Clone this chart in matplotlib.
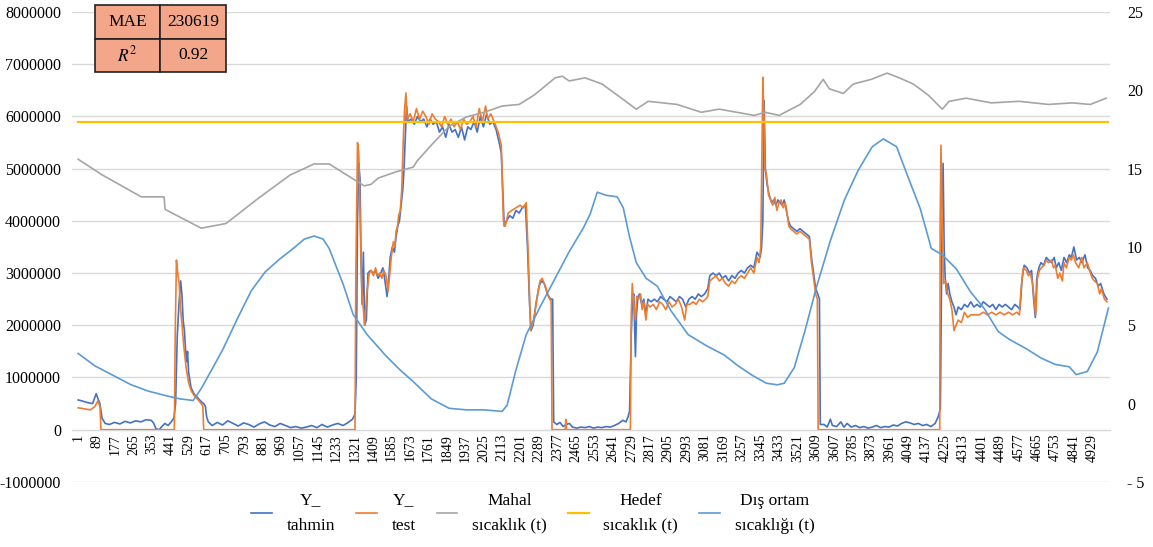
import numpy as np
import matplotlib
matplotlib.use("Agg")
import matplotlib.pyplot as plt

plt.rcParams['font.family'] = ['Liberation Serif', 'DejaVu Serif']
plt.rcParams['mathtext.fontset'] = 'stix'

# --- data (x = sample index, left series in millions, right series in degC) ---
tick_labels = ["1", "89", "177", "265", "353", "441", "529", "617", "705", "793", "881", "969",
               "1057", "1145", "1233", "1321", "1409", "1585", "1673", "1761", "1849", "1937",
               "2025", "2113", "2201", "2289", "2377", "2465", "2553", "2641", "2729", "2817",
               "2905", "2993", "3081", "3169", "3257", "3345", "3433", "3521", "3609", "3607",
               "3785", "3873", "3961", "4049", "4137", "4225", "4313", "4401", "4489", "4577",
               "4665", "4753", "4841", "4929"]

tahmin_x = [1, 20, 45, 70, 87, 95, 105, 115, 130, 150, 175, 200, 225, 250, 275, 300, 325, 350, 362, 372,
            388, 400, 415, 430, 445, 458, 466, 474, 482, 490, 496, 502, 508, 514, 519, 523, 528, 540, 555,
            570, 585, 600, 608, 614, 622, 640, 665, 690, 715, 740, 765, 790, 815, 840, 865, 890, 915, 940,
            965, 990, 1015, 1040, 1065, 1090, 1115, 1140, 1165, 1190, 1215, 1240, 1265, 1290, 1310, 1322,
            1328, 1334, 1340, 1346, 1351, 1356, 1362, 1368, 1376, 1384, 1395, 1410, 1420, 1432, 1445, 1455,
            1465, 1475, 1482, 1490, 1500, 1510, 1518, 1526, 1534, 1542, 1550, 1556, 1562, 1568, 1575, 1590,
            1605, 1620, 1635, 1650, 1665, 1680, 1695, 1710, 1725, 1740, 1755, 1770, 1785, 1800, 1815, 1830,
            1845, 1860, 1875, 1890, 1905, 1920, 1935, 1950, 1965, 1980, 1995, 2010, 2020, 2028, 2034, 2045,
            2060, 2075, 2090, 2105, 2120, 2135, 2145, 2155, 2162, 2172, 2185, 2200, 2212, 2225, 2240, 2255,
            2265, 2270, 2285, 2300, 2315, 2330, 2345, 2360, 2380, 2400, 2420, 2440, 2460, 2480, 2500, 2520,
            2540, 2560, 2580, 2600, 2615, 2625, 2632, 2640, 2646, 2652, 2660, 2665, 2672, 2680, 2690, 2700,
            2710, 2720, 2735, 2750, 2765, 2780, 2795, 2810, 2825, 2840, 2855, 2870, 2885, 2900, 2915, 2930,
            2945, 2960, 2975, 2990, 3005, 3015, 3030, 3045, 3060, 3075, 3090, 3105, 3120, 3135, 3150, 3165,
            3180, 3195, 3210, 3225, 3240, 3255, 3262, 3268, 3274, 3280, 3288, 3298, 3310, 3320, 3330, 3340,
            3350, 3360, 3370, 3380, 3390, 3400, 3415, 3430, 3445, 3460, 3475, 3490, 3500, 3510, 3520, 3530,
            3538, 3542, 3560, 3575, 3590, 3600, 3620, 3640, 3655, 3670, 3690, 3710, 3730, 3750, 3770, 3790,
            3810, 3830, 3850, 3870, 3890, 3910, 3930, 3950, 3970, 3990, 4010, 4030, 4050, 4070, 4090, 4105,
            4115, 4122, 4128, 4133, 4138, 4145, 4152, 4160, 4170, 4180, 4190, 4200, 4215, 4230, 4245, 4260,
            4275, 4290, 4305, 4320, 4335, 4350, 4365, 4380, 4395, 4410, 4425, 4440, 4455, 4470, 4485, 4495,
            4505, 4515, 4528, 4540, 4550, 4560, 4568, 4575, 4585, 4595, 4608, 4620, 4632, 4645, 4658, 4668,
            4680, 4692, 4705, 4718, 4730, 4740, 4752, 4765, 4778, 4790, 4805, 4818, 4830, 4842, 4855, 4868,
            4880, 4895, 4910]
tahmin_y = [0.57, 0.55, 0.52, 0.50, 0.69, 0.60, 0.50, 0.22, 0.12, 0.10, 0.14, 0.11, 0.16, 0.13, 0.17, 0.15,
            0.19, 0.18, 0.12, 0.02, 0.0, 0.06, 0.12, 0.08, 0.15, 0.22, 0.5, 1.8, 2.4, 2.85, 2.6, 2.1, 1.9,
            1.5, 1.3, 1.5, 1.1, 0.8, 0.68, 0.62, 0.55, 0.5, 0.45, 0.25, 0.15, 0.08, 0.14, 0.09, 0.17, 0.12,
            0.07, 0.13, 0.10, 0.05, 0.11, 0.15, 0.09, 0.06, 0.12, 0.08, 0.04, 0.06, 0.03, 0.05, 0.08, 0.04,
            0.10, 0.05, 0.09, 0.12, 0.08, 0.14, 0.20, 0.30,
            1.0, 4.0, 5.1, 4.8, 3.2, 2.4, 3.4, 2.0, 2.1, 3.0, 3.05, 3.0, 3.05, 2.9, 3.0, 3.1,
            2.85, 2.55, 2.85, 3.3, 3.5, 3.4, 3.7, 3.9, 4.0, 4.3, 4.6, 5.0, 5.6, 6.2, 5.9, 5.95,
            5.85, 6.0, 5.9, 5.95, 5.8, 5.95, 5.85, 5.9, 5.7, 5.8, 5.6, 5.85, 5.7, 5.75, 5.6, 5.8,
            5.55, 5.8, 5.75, 5.9, 5.7, 6.0, 5.8, 6.05, 5.85, 5.9, 5.75, 5.5, 5.3, 4.5, 3.9, 4.0,
            4.1, 4.05, 4.2, 4.15, 4.25, 4.3, 3.5, 2.4, 1.9, 2.0, 2.4, 2.75, 2.85, 2.8, 2.6, 2.5,
            2.5, 0.15, 0.10, 0.14, 0.06, 0.10, 0.12, 0.05, 0.03, 0.05, 0.04, 0.06, 0.03, 0.05, 0.04, 0.06,
            0.05, 0.08, 0.12, 0.18, 0.15, 0.25, 0.35, 1.8, 2.5, 2.6, 1.4, 2.2, 2.55, 2.6, 2.4, 2.5,
            2.2, 2.5, 2.45, 2.5, 2.45, 2.55, 2.5, 2.45, 2.55, 2.5, 2.45, 2.55, 2.5, 2.35, 2.5, 2.55,
            2.5, 2.6, 2.55, 2.6, 2.7, 2.95, 3.0, 2.95, 3.0, 2.9, 2.95, 2.85, 2.95, 2.9, 3.0, 3.05,
            3.0, 3.1, 3.15, 3.1, 3.4, 3.3, 3.5, 4.0, 6.3, 5.0, 4.7, 4.5, 4.35, 4.4, 4.3, 4.4,
            4.35, 4.3, 4.4, 4.2, 4.0, 3.9, 3.85, 3.8, 3.85, 3.8, 3.75, 3.7, 3.3, 3.0, 2.7, 2.6,
            2.5, 0.1, 0.10, 0.05, 0.20, 0.08, 0.06, 0.15, 0.05, 0.12, 0.05, 0.08, 0.04, 0.06, 0.03, 0.05,
            0.08, 0.04, 0.06, 0.05, 0.09, 0.07, 0.12, 0.15, 0.13, 0.10, 0.12, 0.08, 0.10, 0.06, 0.12, 0.25,
            0.4, 3.5, 5.1, 3.5, 2.9, 2.6, 2.8, 2.6, 2.45, 2.35, 2.2, 2.35, 2.3, 2.4, 2.35, 2.45,
            2.35, 2.4, 2.35, 2.45, 2.4, 2.35, 2.4, 2.3, 2.4, 2.35, 2.4, 2.35, 2.3, 2.4, 2.35, 2.3,
            2.9, 3.15, 3.1, 3.0, 3.05, 2.5, 2.15, 2.9, 3.1, 3.2, 3.15, 3.3, 3.25, 3.2, 3.3, 3.1,
            3.2, 3.05, 3.3, 3.2, 3.35, 3.3, 3.5, 3.25, 3.3, 3.2, 3.35, 3.1, 3.05, 2.95, 2.9, 2.75,
            2.8, 2.6, 2.5]

test_x = [1, 30, 60, 80, 95, 105, 110, 460, 464, 470, 476, 483, 490, 497, 505, 516, 528, 540, 555, 574,
          588, 596, 600, 1322, 1326, 1334, 1340, 1350, 1356, 1368, 1378, 1390, 1400, 1410, 1420, 1430, 1440,
          1450, 1460, 1470, 1480, 1488, 1495, 1505, 1512, 1518, 1525, 1530, 1538, 1545, 1552, 1558, 1565,
          1571, 1585, 1600, 1615, 1630, 1645, 1660, 1675, 1690, 1705, 1720, 1735, 1750, 1765, 1780, 1795,
          1810, 1825, 1840, 1855, 1870, 1885, 1900, 1915, 1930, 1945, 1955, 1970, 1986, 2005, 2020, 2030,
          2039, 2053, 2070, 2090, 2110, 2125, 2139, 2148, 2160, 2175, 2190, 2205, 2215, 2230, 2245, 2258,
          2262, 2325, 2328, 2332, 2636, 2640, 2645, 2652, 2660, 2666, 2675, 2685, 2692, 2700, 2710, 2718,
          2730, 2745, 2760, 2775, 2790, 2805, 2820, 2835, 2850, 2865, 2880, 2895, 2905, 2920, 2935, 2950,
          2965, 2980, 2995, 3005, 3015, 3030, 3045, 3060, 3075, 3090, 3105, 3120, 3135, 3150, 3165, 3180,
          3195, 3210, 3225, 3240, 3250, 3258, 3264, 3268, 3273, 3278, 3285, 3295, 3305, 3315, 3325, 3335,
          3345, 3355, 3365, 3375, 3385, 3392, 3400, 3415, 3430, 3445, 3460, 3475, 3490, 3500, 3510, 3520,
          3528, 3532, 4112, 4114, 4118, 4124, 4130, 4140, 4150, 4160, 4170, 4180, 4190, 4200, 4215, 4230,
          4245, 4260, 4280, 4300, 4320, 4340, 4360, 4380, 4400, 4420, 4440, 4460, 4480, 4492, 4500, 4511,
          4525, 4535, 4544, 4555, 4565, 4570, 4578, 4587, 4597, 4610, 4620, 4630, 4645, 4655, 4663, 4675,
          4685, 4697, 4705, 4716, 4730, 4740, 4749, 4760, 4775, 4790, 4800, 4816, 4831, 4840, 4850, 4864,
          4875, 4883, 4898, 4910]
test_y = [0.42, 0.40, 0.38, 0.44, 0.55, 0.45, 0.0, 0.0, 1.8, 3.25, 3.0, 2.8, 2.3, 2.0, 1.6, 1.2, 0.9,
          0.75, 0.65, 0.57, 0.50, 0.45, 0.0, 0.0, 3.0, 5.5, 5.3, 3.4, 2.6, 2.0, 2.6, 3.0, 3.05, 2.95,
          3.1, 2.95, 3.0, 2.9, 3.05, 2.95, 2.65, 3.0, 3.3, 3.6, 3.5, 3.8, 3.9, 4.1, 4.2, 4.6, 5.5,
          6.1, 6.45, 5.95, 6.05, 5.9, 6.15, 5.95, 6.1, 6.0, 5.85, 6.05, 5.95, 5.9, 5.8, 6.0, 5.85,
          5.95, 5.8, 5.9, 5.75, 5.95, 5.85, 5.9, 6.0, 5.8, 6.15, 5.9, 6.2, 5.95, 6.05, 5.9, 5.7,
          5.45, 4.0, 3.9, 4.15, 4.2, 4.25, 4.3, 4.25, 4.35, 3.4, 1.9, 2.1, 2.5, 2.85, 2.9, 2.75,
          2.55, 2.45, 0.0, 0.0, 0.2, 0.0, 0.0, 2.2, 2.8, 2.4, 2.1, 2.55, 2.5, 2.6, 2.3, 2.45, 2.1,
          2.4, 2.35, 2.4, 2.3, 2.45, 2.4, 2.3, 2.45, 2.35, 2.4, 2.5, 2.35, 2.1, 2.4, 2.4, 2.45,
          2.4, 2.5, 2.45, 2.5, 2.55, 2.85, 2.9, 2.95, 2.85, 2.9, 2.8, 2.75, 2.85, 2.8, 2.9, 2.95,
          2.9, 3.0, 3.1, 3.0, 3.3, 3.2, 3.5, 5.5, 6.75, 6.0, 5.0, 4.9, 4.5, 4.4, 4.3, 4.45, 4.2,
          4.35, 4.4, 4.25, 4.35, 4.1, 3.9, 3.85, 3.8, 3.75, 3.8, 3.75, 3.7, 3.65, 3.2, 2.9, 2.6,
          2.5, 0.0, 0.0, 4.0, 5.45, 4.0, 2.8, 2.85, 2.6, 2.5, 2.3, 1.9, 2.0, 2.1, 2.05, 2.25,
          2.15, 2.2, 2.2, 2.2, 2.25, 2.2, 2.25, 2.2, 2.25, 2.2, 2.25, 2.2, 2.25, 2.2, 2.7, 3.1,
          3.05, 2.95, 3.0, 2.8, 2.4, 2.2, 2.9, 3.05, 3.1, 3.15, 3.25, 3.2, 3.25, 3.1, 3.15, 2.9,
          3.0, 2.85, 3.2, 3.1, 3.3, 3.25, 3.35, 3.2, 3.1, 3.3, 3.1, 3.2, 3.0, 2.9, 2.85, 2.8,
          2.6, 2.7, 2.5, 2.45]

mahal_x = [1, 116, 302, 411, 416, 588, 707, 860, 1013, 1127, 1199, 1366, 1399, 1433, 1518, 1600, 1619,
           1686, 1771, 1853, 1938, 2024, 2105, 2177, 2277, 2311, 2344, 2420, 2501, 2573, 2664, 2721, 2859,
           2974, 3060, 3227, 3279, 3346, 3446, 3513, 3556, 3585, 3652, 3699, 3785, 3861, 3919, 3986, 4057,
           4124, 4157, 4238, 4358, 4491, 4630, 4744, 4830, 4906]
mahal_y = [15.6, 14.6, 13.2, 13.2, 12.4, 11.2, 11.5, 13.1, 14.6, 15.3, 15.3, 13.9, 14.0, 14.4, 14.8, 15.1,
           15.5, 16.5, 17.7, 18.3, 18.6, 19.0, 19.1, 19.7, 20.8, 20.9, 20.6, 20.8, 20.4, 19.7, 18.8, 19.3,
           19.1, 18.6, 18.8, 18.4, 18.6, 18.4, 19.1, 19.9, 20.7, 20.1, 19.8, 20.4, 20.7, 21.1, 20.8, 20.4,
           19.7, 18.8, 19.3, 19.5, 19.2, 19.3, 19.1, 19.2, 19.1, 19.5]

hedef_x = [1, 4917]
hedef_y = [18.0, 18.0]

dis_x = [1, 82, 168, 254, 335, 421, 488, 550, 588, 640, 693, 760, 827, 893, 960, 1027, 1080, 1127, 1170,
         1199, 1266, 1313, 1380, 1466, 1533, 1600, 1686, 1771, 1853, 1938, 2024, 2048, 2091, 2139, 2210,
         2277, 2344, 2411, 2444, 2478, 2520, 2573, 2602, 2631, 2664, 2711, 2764, 2831, 2912, 2998, 3084,
         3151, 3218, 3285, 3337, 3370, 3418, 3470, 3523, 3590, 3657, 3723, 3790, 3843, 3906, 3954, 4019,
         4072, 4124, 4191, 4258, 4325, 4391, 4444, 4525, 4597, 4663, 4730, 4763, 4816, 4864, 4917]
dis_y = [3.2, 2.4, 1.8, 1.2, 0.8, 0.5, 0.3, 0.2, 0.95, 2.2, 3.5, 5.4, 7.2, 8.4, 9.2, 9.9, 10.5, 10.7,
         10.5, 9.9, 7.6, 5.7, 4.4, 3.1, 2.2, 1.4, 0.3, -0.3, -0.4, -0.4, -0.5, -0.1, 2.2, 4.4, 6.3, 8.0,
         9.7, 11.2, 12.1, 13.5, 13.3, 13.2, 12.5, 10.7, 9.0, 8.0, 7.5, 5.9, 4.4, 3.7, 3.1, 2.4, 1.8,
         1.3, 1.2, 1.3, 2.3, 4.7, 7.4, 10.4, 13.0, 14.9, 16.4, 16.9, 16.4, 14.7, 12.45,
         9.9, 9.5, 8.6, 7.15, 6.05, 4.6, 4.1, 3.5, 2.9, 2.5, 2.35, 1.85, 2.05, 3.3, 6.1]

# --- figure ---
fig = plt.figure(figsize=(11.53, 5.47), dpi=100)
ax = fig.add_axes([0.0625, 0.119, 0.9005, 0.859])
ax2 = ax.twinx()

grid_c = '#D9D9D9'
ax.plot(tahmin_x, np.array(tahmin_y) * 1e6, color='#4472C4', lw=1.2, label='Y_\ntahmin')
ax.plot(test_x, np.array(test_y) * 1e6, color='#ED7D31', lw=1.2, label='Y_\ntest')
ax2.plot(mahal_x, mahal_y, color='#A5A5A5', lw=1.2, label='Mahal\nsıcaklık (t)')
ax2.plot(hedef_x, hedef_y, color='#FFC000', lw=1.6, label='Hedef\nsıcaklık (t)')
ax2.plot(dis_x, dis_y, color='#5B9BD5', lw=1.2, label='Dış ortam\nsıcaklığı (t)')

ax.set_xlim(-28, 4926)
ax.set_ylim(-1e6, 8e6)
ax2.set_ylim(-5, 25)

left_ticks = np.arange(-1e6, 8.5e6, 1e6)
ax.set_yticks(left_ticks)
ax.set_yticklabels(['-1000000' if v < 0 else '%d' % v for v in left_ticks])
right_ticks = np.arange(-5, 30, 5)
ax2.set_yticks(right_ticks)
ax2.set_yticklabels(['- 5' if v < 0 else '%d' % v for v in right_ticks])

ax.set_xticks([1 + 88 * k for k in range(len(tick_labels))])
ax.set_xticklabels(tick_labels)
ax.tick_params(axis='x', labelrotation=90, labelsize=10, length=0, pad=3)
ax.tick_params(axis='y', labelsize=11.5, length=0, pad=8)
ax2.tick_params(axis='y', labelsize=11.5, length=0, pad=12)

ax.grid(axis='y', color=grid_c, lw=1)
ax.set_axisbelow(True)
for s in ['top', 'left', 'right']:
    ax.spines[s].set_visible(False)
    ax2.spines[s].set_visible(False)
ax2.spines['bottom'].set_visible(False)
ax.spines['bottom'].set_position(('data', 0))
ax.spines['bottom'].set_color(grid_c)

# metric table
cells = [["MAE", "230619"], ["$R^2$", "0.92"]]
tab = ax2.table(cellText=cells, cellLoc='center', bbox=[0.022, 0.872, 0.126, 0.143])
tab.auto_set_font_size(False)
tab.set_fontsize(12.5)
for key, cell in tab.get_celld().items():
    cell.set_facecolor('#F3A68A')
    cell.set_edgecolor('#222222')
    cell.set_linewidth(1.2)
tab.set_clip_on(False)

h1, l1 = ax.get_legend_handles_labels()
h2, l2 = ax2.get_legend_handles_labels()
leg = fig.legend(h1 + h2, l1 + l2, loc='center', bbox_to_anchor=(0.462, 0.062), ncol=5,
                 frameon=False, fontsize=12.5, handlelength=1.2, columnspacing=1.2, handletextpad=0.85)
for t in leg.get_texts():
    t.set_multialignment('center')
    t.set_linespacing(1.75)

fig.savefig('out.png', dpi=100)
